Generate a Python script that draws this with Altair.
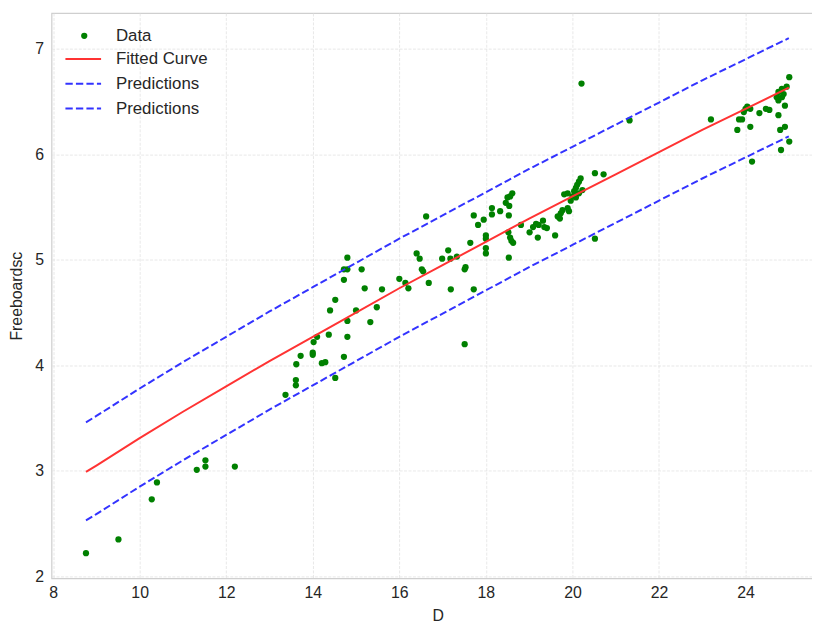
import altair as alt
import pandas as pd

# ---- data ----
data_x = [8.76, 9.51, 10.28, 10.40, 11.32, 11.52, 11.52, 12.20, 13.37, 13.61, 13.61,
          13.62, 13.72, 14.00, 14.00, 14.02, 14.10, 14.21, 14.29, 14.37, 14.40, 14.52,
          14.52, 14.72, 14.80, 14.80, 14.72, 14.72, 14.80, 14.80, 15.00, 15.13, 15.20,
          15.33, 15.48, 15.60, 16.00, 16.14, 16.21, 16.40, 16.47, 16.52, 16.55, 16.68,
          16.99, 17.13, 17.18, 17.33, 17.19, 17.51, 17.51,
          16.62, 17.53, 17.72, 17.64, 17.72, 17.82, 17.95, 18.00, 18.00, 18.00, 18.00,
          18.14, 18.14, 18.33, 18.46, 18.50, 18.61, 18.56, 18.54, 18.53, 18.52, 18.56,
          18.59, 18.63, 18.53, 18.81, 19.01, 19.09, 19.16, 19.22, 19.32, 19.35, 19.41,
          19.20, 19.60, 19.66, 19.73, 19.77, 19.71, 19.81, 19.89, 20.52, 20.72, 20.52,
          20.21, 19.89, 19.96, 20.00, 20.04, 20.08, 20.11, 20.15, 20.19, 20.23, 20.08,
          20.15, 19.92,
          21.32, 23.20, 23.81, 23.85, 23.92, 23.96, 24.00, 24.04, 24.11, 24.11, 24.15,
          24.32, 24.47, 24.55, 24.76, 24.91, 24.72, 24.76, 24.76, 24.84, 24.84, 24.88,
          24.95, 25.01, 24.80, 24.91, 25.01, 24.82]
data_y = [2.22, 2.35, 2.73, 2.89, 3.01, 3.10, 3.04, 3.04, 3.72, 3.81, 3.86,
          4.01, 4.09, 4.12, 4.10, 4.22, 4.27, 4.02, 4.03, 4.29, 4.52, 4.62,
          3.88, 4.08, 4.27, 4.42, 4.81, 4.91, 4.91, 5.02, 4.52, 4.91, 4.73,
          4.41, 4.55, 4.72, 4.82, 4.78, 4.73, 5.06, 5.01, 4.91, 4.89, 4.78,
          5.01, 5.09, 5.01, 5.03, 4.72, 4.20, 4.91,
          5.41, 4.93, 4.72, 5.16, 5.42, 5.33, 5.38, 5.23, 5.20, 5.11, 5.06,
          5.49, 5.43, 5.46, 5.54, 5.59, 5.63, 5.60, 5.51, 5.42, 5.26, 5.21,
          5.18, 5.16, 5.02, 5.33, 5.26, 5.31, 5.34, 5.33, 5.37, 5.31, 5.30,
          5.21, 5.23, 5.41, 5.44, 5.47, 5.39, 5.62, 5.63, 5.82, 5.81, 5.20,
          6.67, 5.49, 5.56, 5.60, 5.65, 5.68, 5.71, 5.74, 5.77, 5.66, 5.59,
          5.63, 5.46,
          6.32, 6.33, 6.23, 6.33, 6.33, 6.40, 6.43, 6.45, 6.43, 6.26, 5.93,
          6.39, 6.43, 6.42, 6.37, 6.46, 6.54, 6.51, 6.59, 6.62, 6.54, 6.57,
          6.64, 6.73, 6.23, 6.26, 6.12, 6.04]

fit_x = [8.76, 9, 10, 11, 12, 13, 14, 15, 16, 17, 18, 19, 20, 21, 22, 23, 24, 25]
fit_y = [2.99, 3.05, 3.31, 3.56, 3.80, 4.04, 4.27, 4.50, 4.73, 4.95, 5.17, 5.39,
         5.60, 5.81, 6.02, 6.23, 6.43, 6.63]
upper_y = [3.46, 3.52, 3.78, 4.03, 4.27, 4.51, 4.74, 4.97, 5.20, 5.42, 5.64, 5.86,
           6.07, 6.28, 6.49, 6.70, 6.90, 7.10]
lower_y = [2.53, 2.59, 2.85, 3.10, 3.34, 3.58, 3.81, 4.04, 4.27, 4.49, 4.71, 4.93,
           5.14, 5.35, 5.56, 5.77, 5.97, 6.17]

x_ticks = [8, 10, 12, 14, 16, 18, 20, 22, 24]
y_ticks = [2, 3, 4, 5, 6, 7]
legend_labels = ["Data", "Fitted Curve", "Predictions", "Predictions"]

# ---- styling ----
FONT = "Liberation Sans"
TXT = "#262626"
GREEN = "#008000"
RED = "#ff3333"
BLUE = "#3333ff"
FS = 16
LEG_FS = 17

pts = pd.DataFrame({"D": data_x, "Freeboardsc": data_y})
lines = pd.DataFrame({"D": fit_x, "fit": fit_y, "upper": upper_y, "lower": lower_y})

xs = alt.Scale(domain=[7.965, 25.81], nice=False, zero=False)
ys = alt.Scale(domain=[1.981, 7.338], nice=False, zero=False)

xaxis = alt.Axis(values=x_ticks, format="d", title="D", labelPadding=6, titlePadding=8)
yaxis = alt.Axis(values=y_ticks, format="d", title="Freeboardsc", labelPadding=8, titlePadding=10)

scatter = alt.Chart(pts).mark_circle(size=40, color=GREEN, opacity=1).encode(
    x=alt.X("D:Q", scale=xs, axis=xaxis),
    y=alt.Y("Freeboardsc:Q", scale=ys, axis=yaxis),
)

base = alt.Chart(lines)
fit_line = base.mark_line(color=RED, strokeWidth=2).encode(
    x=alt.X("D:Q", scale=xs), y=alt.Y("fit:Q", scale=ys))
up_line = base.mark_line(color=BLUE, strokeWidth=2, strokeDash=[7.4, 3.2]).encode(
    x=alt.X("D:Q", scale=xs), y=alt.Y("upper:Q", scale=ys))
lo_line = base.mark_line(color=BLUE, strokeWidth=2, strokeDash=[7.4, 3.2]).encode(
    x=alt.X("D:Q", scale=xs), y=alt.Y("lower:Q", scale=ys))

# ---- manual legend (matplotlib style, upper left, no frame) ----
rows_y = [23, 46.5, 71.5, 96.5]
one = pd.DataFrame({"k": [0]})
leg_point = alt.Chart(one).mark_circle(size=40, color=GREEN, opacity=1).encode(
    x=alt.value(33), y=alt.value(rows_y[0]))
leg_fit = alt.Chart(one).mark_rule(color=RED, strokeWidth=2).encode(
    x=alt.value(14), x2=alt.value(50), y=alt.value(rows_y[1]))
leg_p1 = alt.Chart(one).mark_rule(color=BLUE, strokeWidth=2, strokeDash=[7.4, 3.2]).encode(
    x=alt.value(14), x2=alt.value(50), y=alt.value(rows_y[2]))
leg_p2 = alt.Chart(one).mark_rule(color=BLUE, strokeWidth=2, strokeDash=[7.4, 3.2]).encode(
    x=alt.value(14), x2=alt.value(50), y=alt.value(rows_y[3]))
leg_texts = [
    alt.Chart(pd.DataFrame({"label": [lab]})).mark_text(
        align="left", baseline="middle", font=FONT, fontSize=LEG_FS, color=TXT
    ).encode(x=alt.value(65), y=alt.value(yy), text="label:N")
    for lab, yy in zip(legend_labels, rows_y)
]

chart = alt.layer(
    scatter, fit_line, up_line, lo_line,
    leg_point, leg_fit, leg_p1, leg_p2, *leg_texts
).properties(
    width=780, height=571,
    autosize=alt.AutoSizeParams(type="none"),
    padding={"left": 44, "top": 2, "right": -12, "bottom": 42},
    background="white",
).configure_view(
    stroke="#cfcfcf", strokeWidth=1.25,
).configure_axis(
    labelFont=FONT, labelFontSize=FS, labelColor=TXT,
    titleFont=FONT, titleFontSize=FS, titleColor=TXT, titleFontWeight="normal",
    ticks=False, tickSize=0, domain=False,
    grid=True, gridColor="#e2e2e2", gridWidth=0.8, gridDash=[3, 1.5],
)

chart.save("out.html", embed_options={"renderer": "svg", "actions": False})
